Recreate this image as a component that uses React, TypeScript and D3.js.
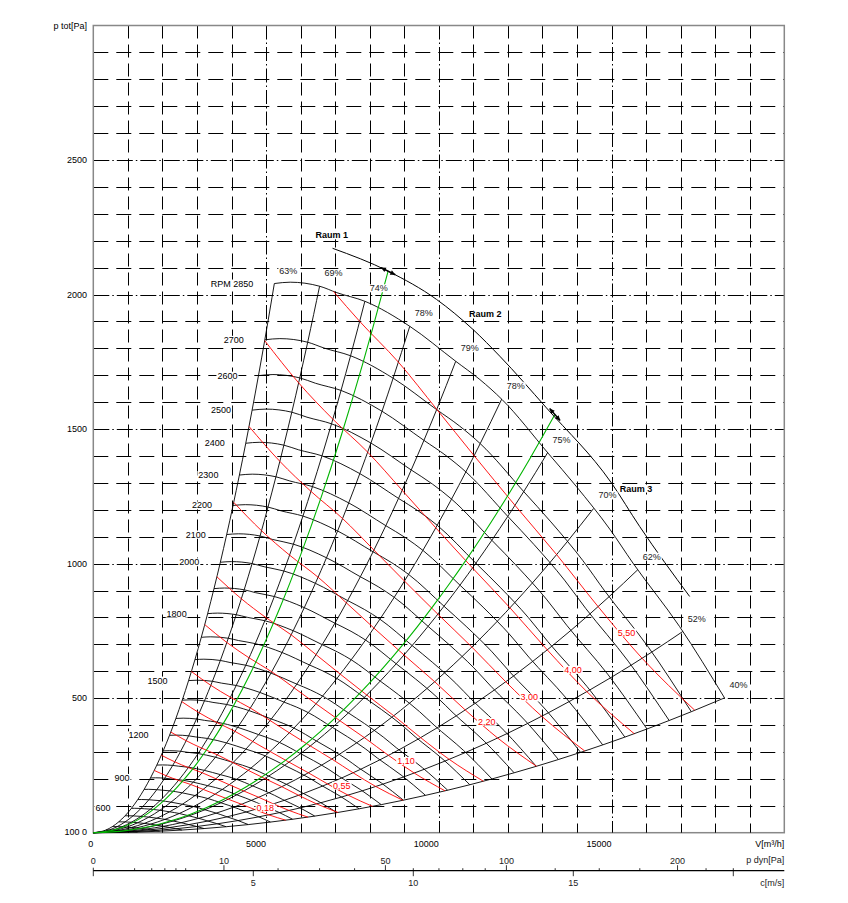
import { useEffect, useRef } from "react";
import * as d3 from "d3";

// fan curve at the top speed: [V m³/h, p tot Pa]
const baseRpm = 2850;
const baseCurve: [number, number][] = [
  [5240, 2041], [5700, 2046], [6550, 2031], [7050, 2007], [7860, 1975],
  [9160, 1882], [10490, 1752], [11190, 1684], [11830, 1610], [13160, 1411],
  [13980, 1287], [14950, 1128], [15620, 1002], [16970, 766], [18270, 501],
];

// speeds that have a curve, and the ones that carry a label
const rpms = [2850, 2700, 2600, 2500, 2400, 2300, 2200, 2100, 2000, 1900, 1800, 1700, 1600,
  1500, 1400, 1300, 1200, 1100, 1000, 900, 800, 700, 600, 500, 400, 300, 200];
const rpmLabels = [2850, 2700, 2600, 2500, 2400, 2300, 2200, 2100, 2000, 1800, 1500, 1200, 900, 600];

// efficiency rays: flow where each ray meets the 2850 curve, and its efficiency
const rayFlows = [5240, 6550, 7860, 9160, 10490, 11820, 13150, 14480, 15760, 17060, 18270];
const rayEff = [63, 69, 74, 78, 79, 78, 75, 70, 62, 52, 40];

// motor power lines (kW) and the labels printed on them
const motorKw = [5.5, 4.0, 3.0, 2.2, 1.5, 1.1, 0.75, 0.55, 0.37, 0.25, 0.18];
const motorLabels = ["5,50", "4,00", "3,00", "2,20", "", "1,10", "", "0,55", "", "", "0,18"];

// "Raum" curve
const raumCurve: [number, number][] = [
  [6925, 2172], [8533, 2087], [9934, 1982], [10992, 1870], [11765, 1771],
  [13115, 1579], [14996, 1300], [15814, 1138], [17260, 878],
];
const raumNames = ["Raum 1", "Raum 2", "Raum 3"];
const raumLabelAt: [number, number][] = [[6905, 2220], [10877, 1926], [15236, 1279]];

// operating points (end of the green system curves)
const dutyPoints: [number, number][] = [[8533, 2087], [13360, 1554]];

// axes
const flowLabels = [0, 5000, 10000, 15000];
const presLabels = [500, 1000, 1500, 2000, 2500];
const pdynTicks = [1, 2, 3, 4, 5, 10, 20, 30, 40, 50, 60, 70, 80, 90, 100, 125, 150, 175, 200, 220, 240];
const pdynLabels = [0, 10, 50, 100, 200];
const cTicks = [0, 5, 10, 15, 20];
const cLabels = [5, 10, 15];

const font = "'Liberation Sans', Arial, Helvetica, sans-serif";

export default function App() {
  const ref = useRef<SVGSVGElement>(null);

  useEffect(() => {
    const svg = d3.select(ref.current);
    svg.selectAll("*").remove();

    const x = d3.scaleLinear().domain([0, 20000]).range([93.3, 784.3]);
    const y = d3.scaleLinear().domain([0, 3000]).range([832.7, 25.5]);
    const x0 = x(0), x1 = x(20000), y0 = y(0), y1 = y(3000);
    const snap = (v: number) => Math.round(v) + 0.5;

    const label = (g: any, px: number, py: number, text: string, o: any = {}) => {
      const t = g.append("text")
        .attr("x", px).attr("y", py)
        .attr("text-anchor", o.anchor || "middle")
        .attr("dominant-baseline", "central")
        .attr("font-family", font).attr("font-size", o.size || 9)
        .attr("font-weight", o.weight || "normal")
        .attr("fill", o.color || "#000")
        .text(text);
      if (o.bg !== false) {
        const b = (t.node() as SVGTextElement).getBBox();
        g.insert("rect", () => t.node())
          .attr("x", b.x - 1).attr("y", b.y + 1)
          .attr("width", b.width + 2).attr("height", b.height - 2)
          .attr("fill", "#fff");
      }
    };

    // grid
    const grid = svg.append("g").attr("stroke", "#000").attr("stroke-width", 1);
    for (let v = 1000; v < 20000; v += 1000) {
      grid.append("line").attr("x1", snap(x(v))).attr("x2", snap(x(v))).attr("y1", y1).attr("y2", y0)
        .attr("stroke-dasharray", v % 5000 === 0 ? "14,3,1.5,3" : "13,6");
    }
    for (let p = 100; p < 3000; p += 100) {
      grid.append("line").attr("x1", x0).attr("x2", x1).attr("y1", snap(y(p))).attr("y2", snap(y(p)))
        .attr("stroke-dasharray", p % 500 === 0 ? "16,3,1.5,3" : "15,8");
    }
    svg.append("rect").attr("x", x0).attr("y", y1).attr("width", x1 - x0).attr("height", y0 - y1)
      .attr("fill", "none").attr("stroke", "#888").attr("stroke-width", 1.5);

    // flow ticks along the bottom of the plot
    for (let v = 1000; v < 20000; v += 1000) {
      svg.append("line").attr("x1", snap(x(v))).attr("x2", snap(x(v))).attr("y1", y0 - 6).attr("y2", y0)
        .attr("stroke", "#000");
    }

    const baseP = (V: number) => {
      for (let i = 0; i < baseCurve.length - 1; i++) {
        const [v0, p0] = baseCurve[i], [v1, p1] = baseCurve[i + 1];
        if (V <= v1) return p0 + (p1 - p0) * (V - v0) / (v1 - v0);
      }
      return baseCurve[baseCurve.length - 1][1];
    };
    const ratios = rpms.map((n) => n / baseRpm).sort((a, b) => a - b);
    const line = d3.line<[number, number]>().x((d) => x(d[0])).y((d) => y(d[1])).curve(d3.curveMonotoneX);
    const plot = svg.append("g").attr("fill", "none");

    // efficiency rays (fan laws: V ~ n, p ~ n²)
    const rayP = rayFlows.map(baseP);
    rayFlows.forEach((V, i) => {
      const pts: [number, number][] = [[0, 0], ...ratios.map((s) => [V * s, rayP[i] * s * s] as [number, number])];
      plot.append("path").attr("d", line(pts)).attr("stroke", "#000").attr("stroke-width", 0.9);
    });

    // speed curves
    rpms.forEach((n) => {
      const s = n / baseRpm;
      const pts = baseCurve.map(([V, p]) => [V * s, p * s * s] as [number, number]);
      plot.append("path").attr("d", line(pts)).attr("stroke", "#000").attr("stroke-width", 0.9);
    });

    // motor power lines: shaft power on each ray scales with n³
    const rayKw = rayFlows.map((V, i) => (V / 3600) * rayP[i] / (rayEff[i] / 100) / 1000);
    const powerLines: [number, number][][] = motorKw.map((kw) => {
      const pts: [number, number][] = [];
      rayFlows.forEach((V, i) => {
        const r = Math.cbrt(kw / rayKw[i]);
        if (r > 1) return;
        if (pts.length === 0 && i > 0) {
          const t = (kw - rayKw[i - 1]) / (rayKw[i] - rayKw[i - 1]);
          const Vc = rayFlows[i - 1] + t * (V - rayFlows[i - 1]);
          pts.push([Vc, baseP(Vc)]);
        }
        pts.push([V * r, rayP[i] * r * r]);
      });
      return pts;
    });
    powerLines.forEach((pts) => {
      plot.append("path").attr("d", line(pts)).attr("stroke", "#ff0000").attr("stroke-width", 0.9);
    });

    // system curves to the duty points
    dutyPoints.forEach(([V, p]) => {
      const pts: [number, number][] = [[0, 0], ...ratios.map((s) => [V * s, p * s * s] as [number, number])];
      plot.append("path").attr("d", line(pts)).attr("stroke", "#00b400").attr("stroke-width", 1.1);
    });

    // Raum curve
    plot.append("path").attr("d", line(raumCurve)).attr("stroke", "#000").attr("stroke-width", 1);

    // duty point markers along the Raum curve
    const raumP = (V: number) => {
      for (let i = 0; i < raumCurve.length - 1; i++) {
        const [v0, p0] = raumCurve[i], [v1, p1] = raumCurve[i + 1];
        if (V <= v1) return p0 + (p1 - p0) * (V - v0) / (v1 - v0);
      }
      return raumCurve[raumCurve.length - 1][1];
    };
    dutyPoints.forEach(([V, p]) => {
      const cx = x(V), cy = y(p);
      const ang = Math.atan2(y(raumP(V + 300)) - y(raumP(V - 300)), x(V + 300) - x(V - 300)) * 180 / Math.PI;
      const m = svg.append("g").attr("transform", `translate(${cx},${cy}) rotate(${ang})`);
      m.append("line").attr("x1", -8).attr("x2", 8).attr("stroke", "#000").attr("stroke-width", 1.5);
      m.append("path").attr("d", "M-8,0L-3,-2.4L-3,2.4Z M8,0L3,-2.4L3,2.4Z").attr("fill", "#000");
    });

    const labels = svg.append("g");

    // rpm labels
    rpmLabels.forEach((n) => {
      const s = n / baseRpm;
      const px = x(rayFlows[0] * s) - 21, py = y(rayP[0] * s * s);
      label(labels, px, py, n === baseRpm ? `RPM ${n}` : `${n}`, { anchor: "end" });
    });

    // efficiency labels
    rayFlows.forEach((V, i) => {
      label(labels, x(V) + 14, y(rayP[i]) - 13, `${rayEff[i]}%`, { color: "#222" });
    });

    // motor labels between rays 8 and 9
    powerLines.forEach((pts, j) => {
      if (!motorLabels[j]) return;
      const a = pts[pts.length - 3], b = pts[pts.length - 2];
      const px = x(a[0]) + 0.6 * (x(b[0]) - x(a[0]));
      const py = y(a[1]) + 0.6 * (y(b[1]) - y(a[1]));
      label(labels, px + 2, py - 5, motorLabels[j], { color: "#ff0000" });
    });

    // Raum labels
    raumNames.forEach((t, i) => {
      label(labels, x(raumLabelAt[i][0]), y(raumLabelAt[i][1]), t,
        { weight: "bold", anchor: i === 0 ? "middle" : "start" });
    });

    // y axis labels
    presLabels.forEach((p) => label(labels, 87, y(p), `${p}`, { anchor: "end", bg: false }));
    label(labels, 87, y0 - 1, "100 0", { anchor: "end", bg: false });
    label(labels, 87, 26, "p tot[Pa]", { anchor: "end", bg: false });

    // flow axis labels
    flowLabels.forEach((v) => label(labels, x(v), 844, `${v}`, { anchor: "end", bg: false }));
    label(labels, x1, 844, "V[m³/h]", { anchor: "end", bg: false });

    // lower axis: dynamic pressure above, velocity below
    const c = d3.scaleLinear().domain([0, 1]).range([x0, x0 + 32]);
    const pdX = (pd: number) => c(Math.sqrt(pd / 0.6));
    const ay = 870.7;
    svg.append("line").attr("x1", x0).attr("x2", x1).attr("y1", ay).attr("y2", ay)
      .attr("stroke", "#000").attr("stroke-width", 1.3);
    pdynTicks.forEach((pd) => {
      const big = pdynLabels.includes(pd);
      svg.append("line").attr("x1", pdX(pd)).attr("x2", pdX(pd)).attr("y1", ay - (big ? 5.5 : 2.5)).attr("y2", ay)
        .attr("stroke", "#000").attr("stroke-width", 0.8);
    });
    cTicks.forEach((v) => {
      svg.append("line").attr("x1", c(v)).attr("x2", c(v)).attr("y1", ay - (v === 0 ? 3 : 0)).attr("y2", ay + 5.5)
        .attr("stroke", "#000").attr("stroke-width", 0.8);
    });
    pdynLabels.forEach((pd) => label(labels, pdX(pd), 860.5, `${pd}`, { bg: false, color: "#222" }));
    cLabels.forEach((v) => label(labels, c(v), 882.5, `${v}`, { bg: false, color: "#222" }));
    label(labels, x1, 860, "p dyn[Pa]", { anchor: "end", bg: false, color: "#222" });
    label(labels, x1, 882.5, "c[m/s]", { anchor: "end", bg: false, color: "#222" });
  }, []);

  return (
    <svg ref={ref} width={848} height={903}
      style={{ position: "absolute", left: 0, top: 0, background: "#fff" }} />
  );
}
